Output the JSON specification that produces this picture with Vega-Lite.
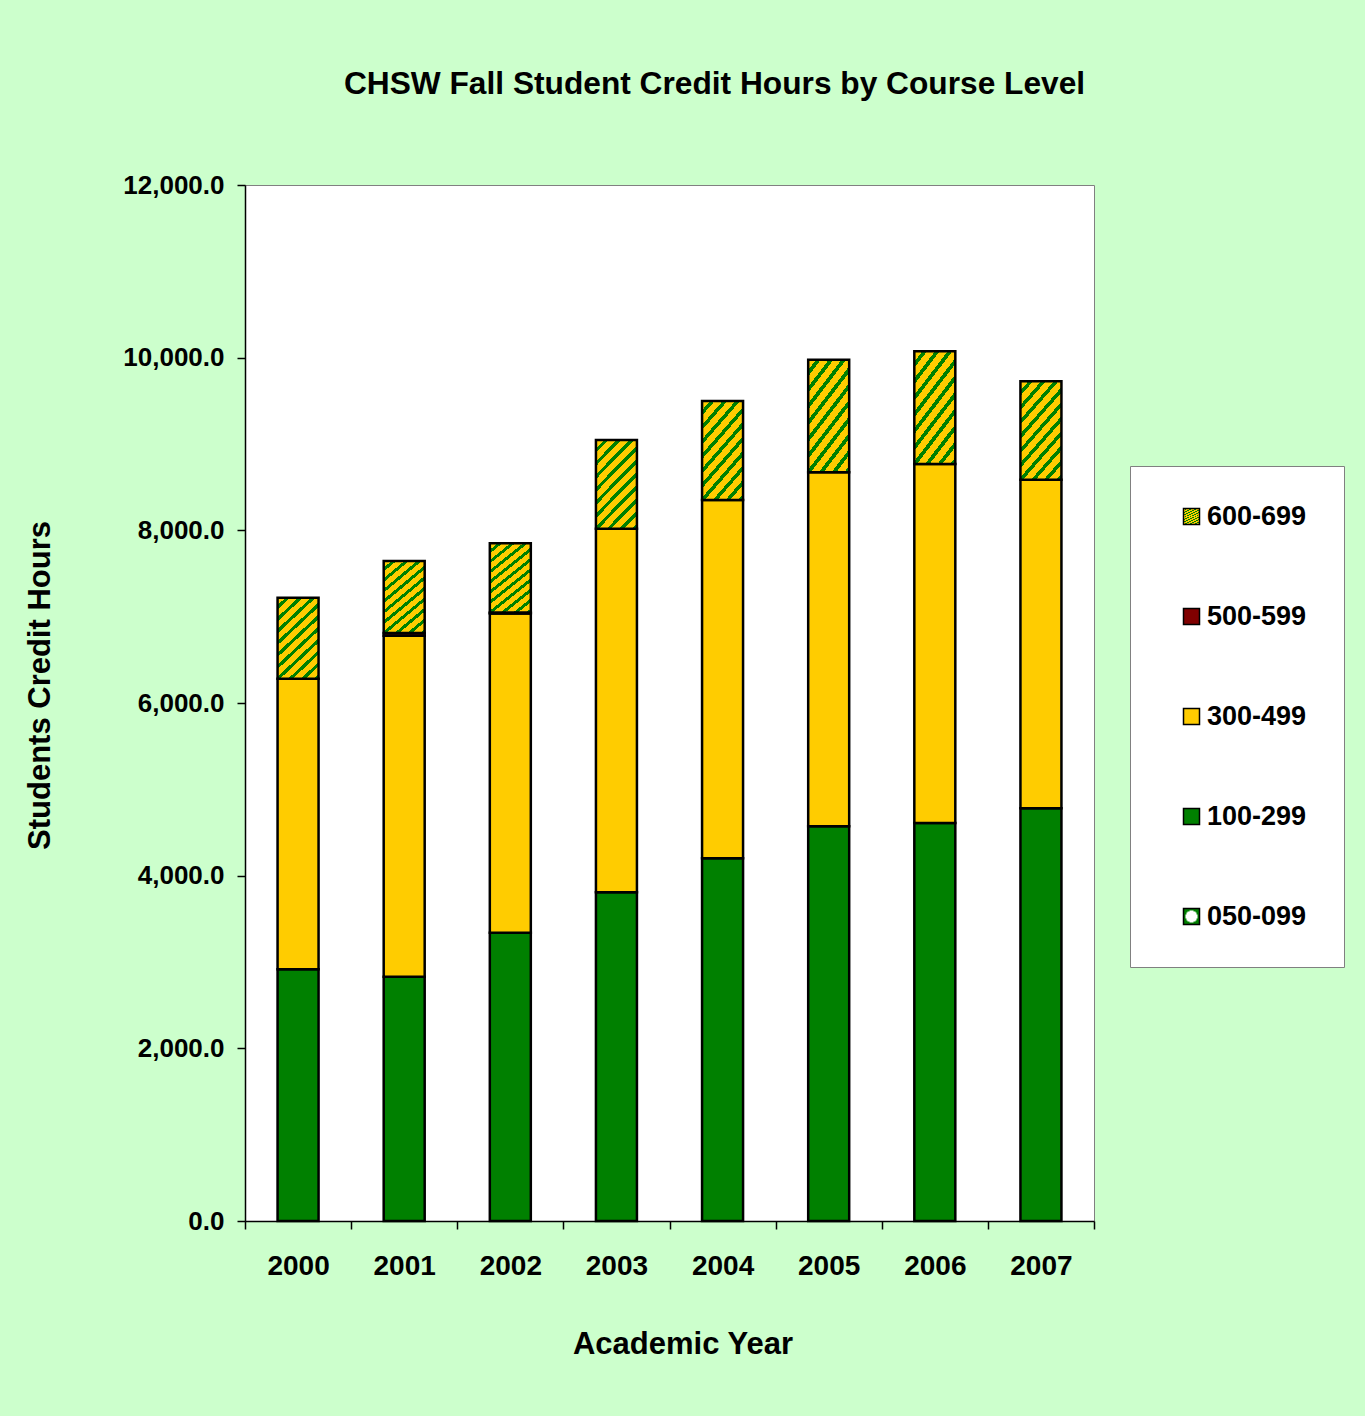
{
  "$schema": "https://vega.github.io/schema/vega-lite/v6.json",
  "autosize": "none",
  "padding": {"left": 245, "top": 185, "right": 271, "bottom": 195},
  "width": 849,
  "height": 1036,
  "background": "#CCFFCC",
  "title": {
    "text": "CHSW Fall Student Credit Hours by Course Level",
    "fontSize": 31.7,
    "fontWeight": "bold",
    "font": "Liberation Sans",
    "color": "black",
    "anchor": "middle",
    "baseline": "alphabetic",
    "dx": 45,
    "offset": 46
  },
  "data": {
    "values": [
      {"year": "2000", "level": "100-299", "hours": 2915},
      {"year": "2000", "level": "300-499", "hours": 3367},
      {"year": "2000", "level": "600-699", "hours": 938},
      {"year": "2001", "level": "100-299", "hours": 2830},
      {"year": "2001", "level": "300-499", "hours": 3950},
      {"year": "2001", "level": "500-599", "hours": 30},
      {"year": "2001", "level": "600-699", "hours": 835},
      {"year": "2002", "level": "100-299", "hours": 3339},
      {"year": "2002", "level": "300-499", "hours": 3698},
      {"year": "2002", "level": "500-599", "hours": 11},
      {"year": "2002", "level": "600-699", "hours": 802},
      {"year": "2003", "level": "100-299", "hours": 3807},
      {"year": "2003", "level": "300-499", "hours": 4212},
      {"year": "2003", "level": "600-699", "hours": 1027},
      {"year": "2004", "level": "100-299", "hours": 4201},
      {"year": "2004", "level": "300-499", "hours": 4150},
      {"year": "2004", "level": "600-699", "hours": 1147},
      {"year": "2005", "level": "100-299", "hours": 4572},
      {"year": "2005", "level": "300-499", "hours": 4100},
      {"year": "2005", "level": "600-699", "hours": 1305},
      {"year": "2006", "level": "100-299", "hours": 4610},
      {"year": "2006", "level": "300-499", "hours": 4158},
      {"year": "2006", "level": "600-699", "hours": 1306},
      {"year": "2007", "level": "100-299", "hours": 4780},
      {"year": "2007", "level": "300-499", "hours": 3807},
      {"year": "2007", "level": "600-699", "hours": 1139}
    ]
  },
  "mark": {"type": "bar", "stroke": "black", "strokeWidth": 2.5, "size": 41},
  "encoding": {
    "x": {
      "field": "year",
      "type": "ordinal",
      "scale": {"paddingInner": 0, "paddingOuter": 0},
      "axis": {
        "title": "Academic Year",
        "labelAngle": 0,
        "tickBand": "extent",
        "tickSize": 8,
        "tickColor": "black",
        "domainColor": "black",
        "labelFontSize": 28,
        "labelPadding": 23,
        "titleFontSize": 31,
        "titleX": 437.5,
        "titleY": 123,
        "titleBaseline": "middle"
      }
    },
    "y": {
      "field": "hours",
      "type": "quantitative",
      "stack": "zero",
      "scale": {"domain": [0, 12000], "nice": false},
      "axis": {
        "title": "Students Credit Hours",
        "values": [0, 2000, 4000, 6000, 8000, 10000, 12000],
        "format": ",.1f",
        "grid": false,
        "tickSize": 8,
        "tickColor": "black",
        "domainColor": "black",
        "labelFontSize": 26,
        "labelPadding": 13,
        "titleFontSize": 31,
        "titleX": -205,
        "titleY": 500,
        "titleBaseline": "middle"
      }
    },
    "color": {
      "field": "level",
      "type": "nominal",
      "scale": {
        "domain": ["600-699", "500-599", "300-499", "100-299", "050-099"],
        "range": [
          {"expr": "{gradient:'linear',x1:0,y1:0,x2:0.57,y2:1.2,stops:[{offset:0,color:'#FFCC00'},{offset:0.063,color:'#FFCC00'},{offset:0.063,color:'#008000'},{offset:0.1,color:'#008000'},{offset:0.1,color:'#FFCC00'},{offset:0.163,color:'#FFCC00'},{offset:0.163,color:'#008000'},{offset:0.2,color:'#008000'},{offset:0.2,color:'#FFCC00'},{offset:0.263,color:'#FFCC00'},{offset:0.263,color:'#008000'},{offset:0.3,color:'#008000'},{offset:0.3,color:'#FFCC00'},{offset:0.363,color:'#FFCC00'},{offset:0.363,color:'#008000'},{offset:0.4,color:'#008000'},{offset:0.4,color:'#FFCC00'},{offset:0.463,color:'#FFCC00'},{offset:0.463,color:'#008000'},{offset:0.5,color:'#008000'},{offset:0.5,color:'#FFCC00'},{offset:0.563,color:'#FFCC00'},{offset:0.563,color:'#008000'},{offset:0.6,color:'#008000'},{offset:0.6,color:'#FFCC00'},{offset:0.663,color:'#FFCC00'},{offset:0.663,color:'#008000'},{offset:0.7,color:'#008000'},{offset:0.7,color:'#FFCC00'},{offset:0.763,color:'#FFCC00'},{offset:0.763,color:'#008000'},{offset:0.8,color:'#008000'},{offset:0.8,color:'#FFCC00'},{offset:0.863,color:'#FFCC00'},{offset:0.863,color:'#008000'},{offset:0.9,color:'#008000'},{offset:0.9,color:'#FFCC00'},{offset:0.963,color:'#FFCC00'},{offset:0.963,color:'#008000'},{offset:1,color:'#008000'}]}"},
          "#800000",
          "#FFCC00",
          "#008000",
          {"expr": "{gradient:'radial',x1:0.5,y1:0.5,r1:0,x2:0.5,y2:0.5,r2:0.5,stops:[{offset:0,color:'#FFFFFF'},{offset:0.75,color:'#FFFFFF'},{offset:0.75,color:'#008000'},{offset:1,color:'#008000'}]}"}
        ]
      },
      "legend": {
        "title": null,
        "orient": "none",
        "legendX": 885,
        "legendY": 281,
        "fillColor": "white",
        "strokeColor": "#808080",
        "padding": 37,
        "symbolOffset": 11,
        "symbolType": "square",
        "symbolSize": 256,
        "symbolStrokeColor": "black",
        "symbolStrokeWidth": 1.5,
        "labelFontSize": 27,
        "labelFontWeight": "bold",
        "labelOffset": 2,
        "rowPadding": 72
      }
    },
    "order": {"field": "level", "type": "nominal", "sort": "ascending"}
  },
  "config": {
    "font": "Liberation Sans",
    "view": {"fill": "white", "stroke": "#808080", "strokeWidth": 1},
    "axis": {
      "labelFont": "Liberation Sans",
      "labelFontWeight": "bold",
      "labelColor": "black",
      "titleFont": "Liberation Sans",
      "titleFontWeight": "bold",
      "titleColor": "black",
      "domainWidth": 1.5,
      "tickWidth": 1.5
    },
    "legend": {"labelFont": "Liberation Sans", "labelColor": "black", "labelLimit": 300}
  }
}
